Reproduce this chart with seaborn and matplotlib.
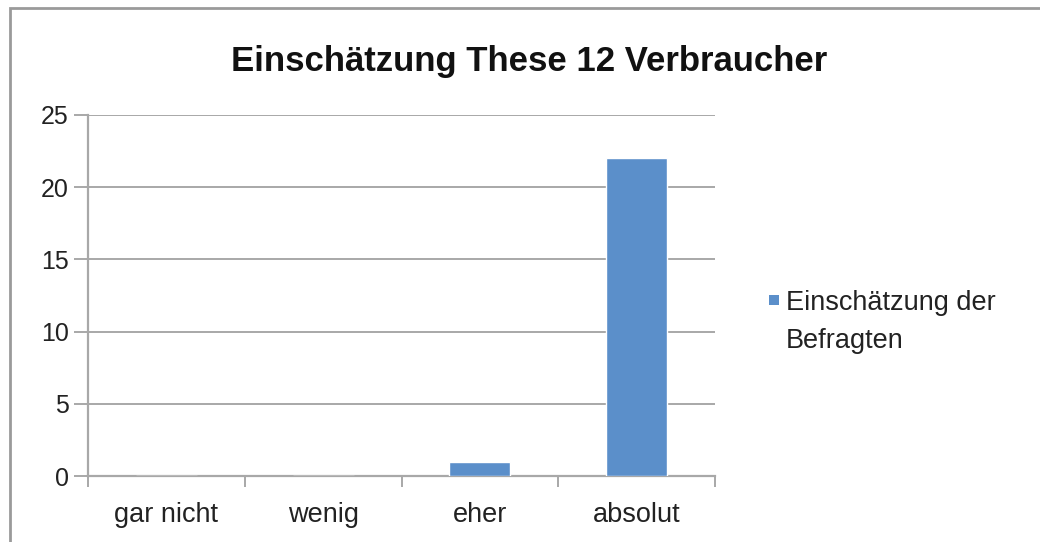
import matplotlib
matplotlib.use("Agg")
import matplotlib.pyplot as plt
from matplotlib.patches import Rectangle, Patch
from matplotlib.legend_handler import HandlerPatch
import seaborn as sns
import pandas as pd

categories = ["gar nicht", "wenig", "eher", "absolut"]
values = [0, 0, 1, 22]
series_name = "Einschätzung der\nBefragten"
title = "Einschätzung These 12 Verbraucher"
y_ticks = [0, 5, 10, 15, 20, 25]

sns.set_theme(style="white")
plt.rcParams["font.family"] = ["Liberation Sans", "DejaVu Sans"]

bar_color = "#5b8fca"
grid_color = "#a8a8a8"
text_color = "#222222"

df = pd.DataFrame({"Antwort": categories, "Anzahl": values})

fig = plt.figure(figsize=(10.4, 5.42), dpi=100)
ax = fig.add_axes([88 / 1040, 1 - 476 / 542, (715 - 88) / 1040, (476 - 115) / 542])

sns.barplot(data=df, x="Antwort", y="Anzahl", color=bar_color, width=0.39,
            saturation=1, ax=ax, zorder=3)

ax.set_xlim(-0.5, len(categories) - 0.5)
ax.set_ylim(0, 25)
ax.set_yticks(y_ticks)
ax.set_xlabel("")
ax.set_ylabel("")

# horizontal gridlines
ax.yaxis.grid(True, color=grid_color, linewidth=1.4)
ax.xaxis.grid(False)
ax.set_axisbelow(True)

for side in ["top", "right"]:
    ax.spines[side].set_visible(False)
for side in ["left", "bottom"]:
    ax.spines[side].set_color(grid_color)
    ax.spines[side].set_linewidth(1.6)

ax.tick_params(axis="y", which="major", left=True, length=10, width=1.4,
               color=grid_color, labelsize=18, labelcolor=text_color, pad=4)
# category labels centred, tick marks on category boundaries
ax.tick_params(axis="x", which="major", bottom=False, labelsize=19.5,
               labelcolor=text_color, pad=13)
ax.set_xticks(range(len(categories)), categories)
ax.set_xticks([i - 0.5 for i in range(len(categories) + 1)], minor=True)
ax.tick_params(axis="x", which="minor", bottom=True, length=8, width=1.4,
               color=grid_color)

fig.text(529 / 1040, 1 - 61 / 542, title, ha="center", va="center",
         fontsize=25, fontweight="bold", color="#111111")


class TopSquare(HandlerPatch):
    """Small square key aligned with the first line of a two-line label."""

    def create_artists(self, legend, orig_handle, xdescent, ydescent,
                       width, height, fontsize, trans):
        size = 7.5
        cy = height / 2 - ydescent + 0.85 * fontsize
        p = Rectangle((width - size - xdescent, cy - size / 2), size, size,
                      facecolor=orig_handle.get_facecolor(), edgecolor="none",
                      transform=trans)
        return [p]


handle = Patch(facecolor=bar_color, edgecolor="none", label=series_name)
leg = fig.legend(handles=[handle], loc="upper left",
                 bbox_to_anchor=(741 / 1040, 1 - 266 / 542), frameon=False,
                 fontsize=19.5, handlelength=0.5, handleheight=0.5,
                 handletextpad=0.25, labelcolor=text_color,
                 handler_map={Patch: TopSquare()})
for t in leg.get_texts():
    t.set_linespacing(1.6)

# chart border
fig.add_artist(Rectangle((10 / 1040, -0.05), 1.2, 1 - 8 / 542 + 0.05,
                         transform=fig.transFigure, fill=False,
                         edgecolor="#9a9a9a", linewidth=2))

fig.savefig("out.png", dpi=100, facecolor="white")
